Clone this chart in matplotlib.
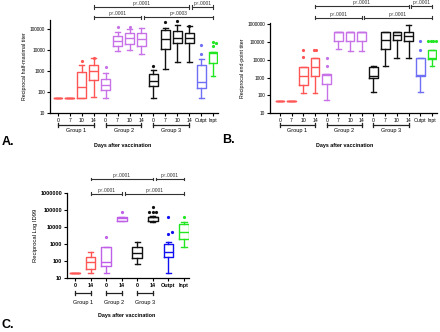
import numpy as np
import matplotlib
matplotlib.use("Agg")
import matplotlib.pyplot as plt
from matplotlib.transforms import blended_transform_factory
from matplotlib.ticker import FixedLocator, NullLocator

plt.rcParams['font.family'] = ['Liberation Sans', 'DejaVu Sans']

# ---------------- data ----------------
cats_AB = ["0", "7", "10", "14", "0", "7", "10", "14", "0", "7", "10", "14", "Outpt", "Inpt"]
groups_AB = ["Group 1", "Group 2", "Group 3"]
cats_C = ["0", "14", "0", "14", "0", "14", "Outpt", "Inpt"]
groups_C = ["Group 1", "Group 2", "Group 3"]

# Panel A: reciprocal half-maximal titer
A_whislo = [50, 50, 50, 57, 50, 9000, 10000, 6500, 53, 1200, 2700, 2700, 52, 570]
A_q1 = [50, 50, 50, 360, 120, 16000, 19500, 15500, 195, 11000, 21000, 21000, 150, 2300]
A_med = [50, 50, 175, 1000, 225, 27000, 35000, 32000, 330, 32000, 36000, 36000, 290, 7000]
A_q3 = [50, 50, 930, 1800, 410, 45000, 62000, 66000, 720, 85000, 74000, 66000, 1950, 7800]
A_whishi = [50, 50, 2000, 4000, 780, 73000, 95000, 112000, 1100, 112000, 155000, 138000, 3500, 8000]
A_fliers = [[], [], [2800], [4300], [1450], [120000], [120000], [], [1700], [200000],
            [240000], [140000], [17000, 6500], [23000, 21000, 16000]]

# Panel B: reciprocal end-point titer
B_whislo = [50, 50, 140, 140, 54, 43000, 32000, 32000, 160, 4400, 12500, 12500, 160, 4400]
B_q1 = [50, 50, 375, 1200, 430, 117000, 117000, 117000, 900, 43000, 137000, 117000, 1300, 11500]
B_med = [50, 50, 1300, 4000, 1350, 370000, 370000, 370000, 1200, 137000, 240000, 220000, 1400, 12000]
B_q3 = [50, 50, 3900, 12500, 1550, 370000, 370000, 370000, 4200, 370000, 370000, 370000, 12000, 38000]
B_whishi = [50, 50, 3900, 12500, 1550, 370000, 370000, 370000, 4600, 370000, 370000, 870000, 12000, 38000]
B_fliers = [[], [], [38000, 14500], [38000, 38000], [12500, 4400], [], [], [], [], [], [], [],
            [110000, 38000], [110000, 110000, 110000, 110000]]

# Panel C: reciprocal Log ID99
C_whislo = [20, 20, 20, 23000, 65, 20000, 20, 690]
C_q1 = [20, 33, 51, 24000, 140, 22000, 160, 1850]
C_med = [20, 90, 85, 33000, 300, 40000, 350, 5400]
C_q3 = [20, 180, 630, 42000, 630, 42000, 1000, 15000]
C_whishi = [20, 350, 690, 42000, 1350, 45000, 1300, 21000]
C_fliers = [[], [], [2500], [82000], [], [160000, 80000, 80000, 80000], [42000, 5400, 3900], [42000]]

# significance comparisons: (from category, to category, p text, row)
A_sig = [(3, 11, "p<.0001", 0), (11, 13, "p<.0001", 0), (3, 7, "p<.0001", 1), (7, 13, "p=.0003", 1)]
B_sig = [(3, 11, "p<.0001", 0), (11, 13, "p<.0001", 0), (3, 7, "p<.0001", 1), (7, 13, "p<.0001", 1)]
C_sig = [(1, 5, "p<.0001", 0), (5, 7, "p<.0001", 0), (1, 3, "p<.0001", 1), (3, 7, "p<.0001", 1)]

# ---------------- styling ----------------
RED = "#FF5555"
PUR_A = "#C872E8"
PUR_C = "#C060E8"
BLK = "#111111"
BLU_A = "#6F6FF5"
BLU_C = "#1010F0"
GRN = "#22E622"
colors_AB = [RED] * 4 + [PUR_A] * 4 + [BLK] * 4 + [BLU_A, GRN]
colors_C = [RED, RED, PUR_C, PUR_C, BLK, BLK, BLU_C, GRN]

fig = plt.figure(figsize=(4.4, 3.32), dpi=100)
W, H = 440.0, 332.0


def axes_px(x0, y0, x1, y1):
    return fig.add_axes([x0 / W, 1 - y1 / H, (x1 - x0) / W, (y1 - y0) / H])


def draw_boxes(ax, whislo, q1, med, q3, whishi, fliers, colors, width, lw):
    n = len(med)
    for i in range(n):
        st = dict(whislo=whislo[i], q1=q1[i], med=med[i], q3=q3[i], whishi=whishi[i], fliers=[])
        c = colors[i]
        ax.bxp([st], positions=[i], widths=width, capwidths=width * 0.55,
               showfliers=False, patch_artist=False,
               boxprops=dict(color=c, lw=lw),
               medianprops=dict(color=c, lw=lw),
               whiskerprops=dict(color=c, lw=lw),
               capprops=dict(color=c, lw=lw))
        # fliers: identical values are spread side by side
        vals = fliers[i]
        uniq = []
        for v in vals:
            if v not in uniq:
                uniq.append(v)
        for v in uniq:
            k = vals.count(v)
            offs = (np.arange(k) - (k - 1) / 2.0) * 0.22
            ax.plot(i + offs + (0.25 if k == 1 and len(uniq) > 2 and uniq.index(v) % 2 else 0),
                    [v] * k, 'o', color=c, ms=2.3, mec='none', clip_on=False)


def style_axes(ax, ncat, cats, ylim, yticks, xlim, yfs, xfs, bold=False):
    ax.set_yscale('log')
    ax.set_ylim(*ylim)
    ax.set_xlim(*xlim)
    for s in ['top', 'right']:
        ax.spines[s].set_visible(False)
    for s in ['left', 'bottom']:
        ax.spines[s].set_linewidth(0.9)
    ax.yaxis.set_major_locator(FixedLocator(yticks))
    ax.yaxis.set_minor_locator(NullLocator())
    ax.set_yticklabels([str(int(t)) for t in yticks], fontsize=yfs,
                       fontweight='bold' if bold else 'normal')
    ax.set_xticks(range(ncat))
    ax.set_xticklabels(cats, fontsize=xfs, fontweight='bold' if bold else 'normal')
    ax.tick_params(axis='both', length=2, width=0.8, pad=1.5)


def sig_brackets(ax, sigs, rows_y, fs):
    tr = blended_transform_factory(ax.transData, ax.transAxes)
    prev_end = {}
    for (a, b, txt, row) in sigs:
        y = rows_y[row]
        x0 = a + (0.2 if prev_end.get(row) == a else 0)
        x1 = b
        prev_end[row] = b
        ax.plot([x0, x1], [y, y], color='#333333', lw=0.8, transform=tr, clip_on=False)
        for x in (x0, x1):
            ax.plot([x, x], [y - 0.017, y + 0.017], color='#333333', lw=0.8,
                    transform=tr, clip_on=False)
        ax.annotate(txt, xy=((x0 + x1) / 2, y), xycoords=tr, xytext=(0, 0.8),
                    textcoords='offset points', fontsize=fs, ha='center', va='bottom',
                    color='#333333')


def group_brackets(ax, spans, labels, ybr, ytx, fs):
    tr = blended_transform_factory(ax.transData, ax.transAxes)
    for (a, b), lab in zip(spans, labels):
        ax.plot([a, b], [ybr, ybr], color='#222222', lw=0.9, transform=tr, clip_on=False)
        for x in (a, b):
            ax.plot([x, x], [ybr - 0.02, ybr + 0.02], color='#222222', lw=0.9,
                    transform=tr, clip_on=False)
        ax.text((a + b) / 2, ytx, lab, fontsize=fs, ha='center', va='center', transform=tr)


# ---------------- Panel A ----------------
axA = axes_px(50, 20, 218, 113)
draw_boxes(axA, A_whislo, A_q1, A_med, A_q3, A_whishi, A_fliers, colors_AB, 0.75, 1.0)
style_axes(axA, 14, cats_AB, (10, 2.6e5), [10, 100, 1000, 10000, 100000], (-0.67, 13.42), 3.4, 3.7)
axA.set_ylabel("Reciprocal half-maximal titer", fontsize=3.8, labelpad=2)
sig_brackets(axA, A_sig, [1.14, 1.03], 3.5)
group_brackets(axA, [(0, 3), (4, 7), (8, 11)], groups_AB, -0.13, -0.19, 4)
fig.text(123 / W, 1 - 145.5 / H, "Days after vaccination", fontsize=3.9, fontweight='bold',
         ha='center', va='center')
fig.text(2 / W, 1 - 142 / H, "A.", fontsize=9, fontweight='bold', ha='left', va='center')

# ---------------- Panel B ----------------
axB = axes_px(270, 22.7, 437, 113)
draw_boxes(axB, B_whislo, B_q1, B_med, B_q3, B_whishi, B_fliers, colors_AB, 0.75, 1.0)
style_axes(axB, 14, cats_AB, (10, 1.25e6), [10, 100, 1000, 10000, 100000, 1000000],
           (-0.85, 13.43), 3.4, 3.7)
axB.set_ylabel("Reciprocal end-point titer", fontsize=3.8, labelpad=2)
sig_brackets(axB, B_sig, [1.18, 1.055], 3.5)
group_brackets(axB, [(0, 3), (4, 7), (8, 11)], groups_AB, -0.13, -0.19, 4)
fig.text(345 / W, 1 - 145.5 / H, "Days after vaccination", fontsize=3.9, fontweight='bold',
         ha='center', va='center')
fig.text(222 / W, 1 - 140 / H, "B.", fontsize=9, fontweight='bold', ha='left', va='center')

# ---------------- Panel C ----------------
axC = axes_px(67, 193.3, 189, 277.7)
draw_boxes(axC, C_whislo, C_q1, C_med, C_q3, C_whishi, C_fliers, colors_C, 0.62, 1.0)
style_axes(axC, 8, cats_C, (10, 1e6), [10, 100, 1000, 10000, 100000, 1000000],
           (-0.52, 7.33), 4.0, 3.9, bold=True)
axC.set_ylabel("Reciprocal Log ID99", fontsize=4.2, labelpad=2)
sig_brackets(axC, C_sig, [1.169, 0.995], 3.5)
group_brackets(axC, [(0, 1), (2, 3), (4, 5)], groups_C, -0.18, -0.29, 4)
fig.text(127 / W, 1 - 315.7 / H, "Days after vaccination", fontsize=3.9, fontweight='bold',
         ha='center', va='center')
fig.text(2 / W, 1 - 325 / H, "C.", fontsize=9, fontweight='bold', ha='left', va='center')

fig.savefig("out.png", dpi=100)
